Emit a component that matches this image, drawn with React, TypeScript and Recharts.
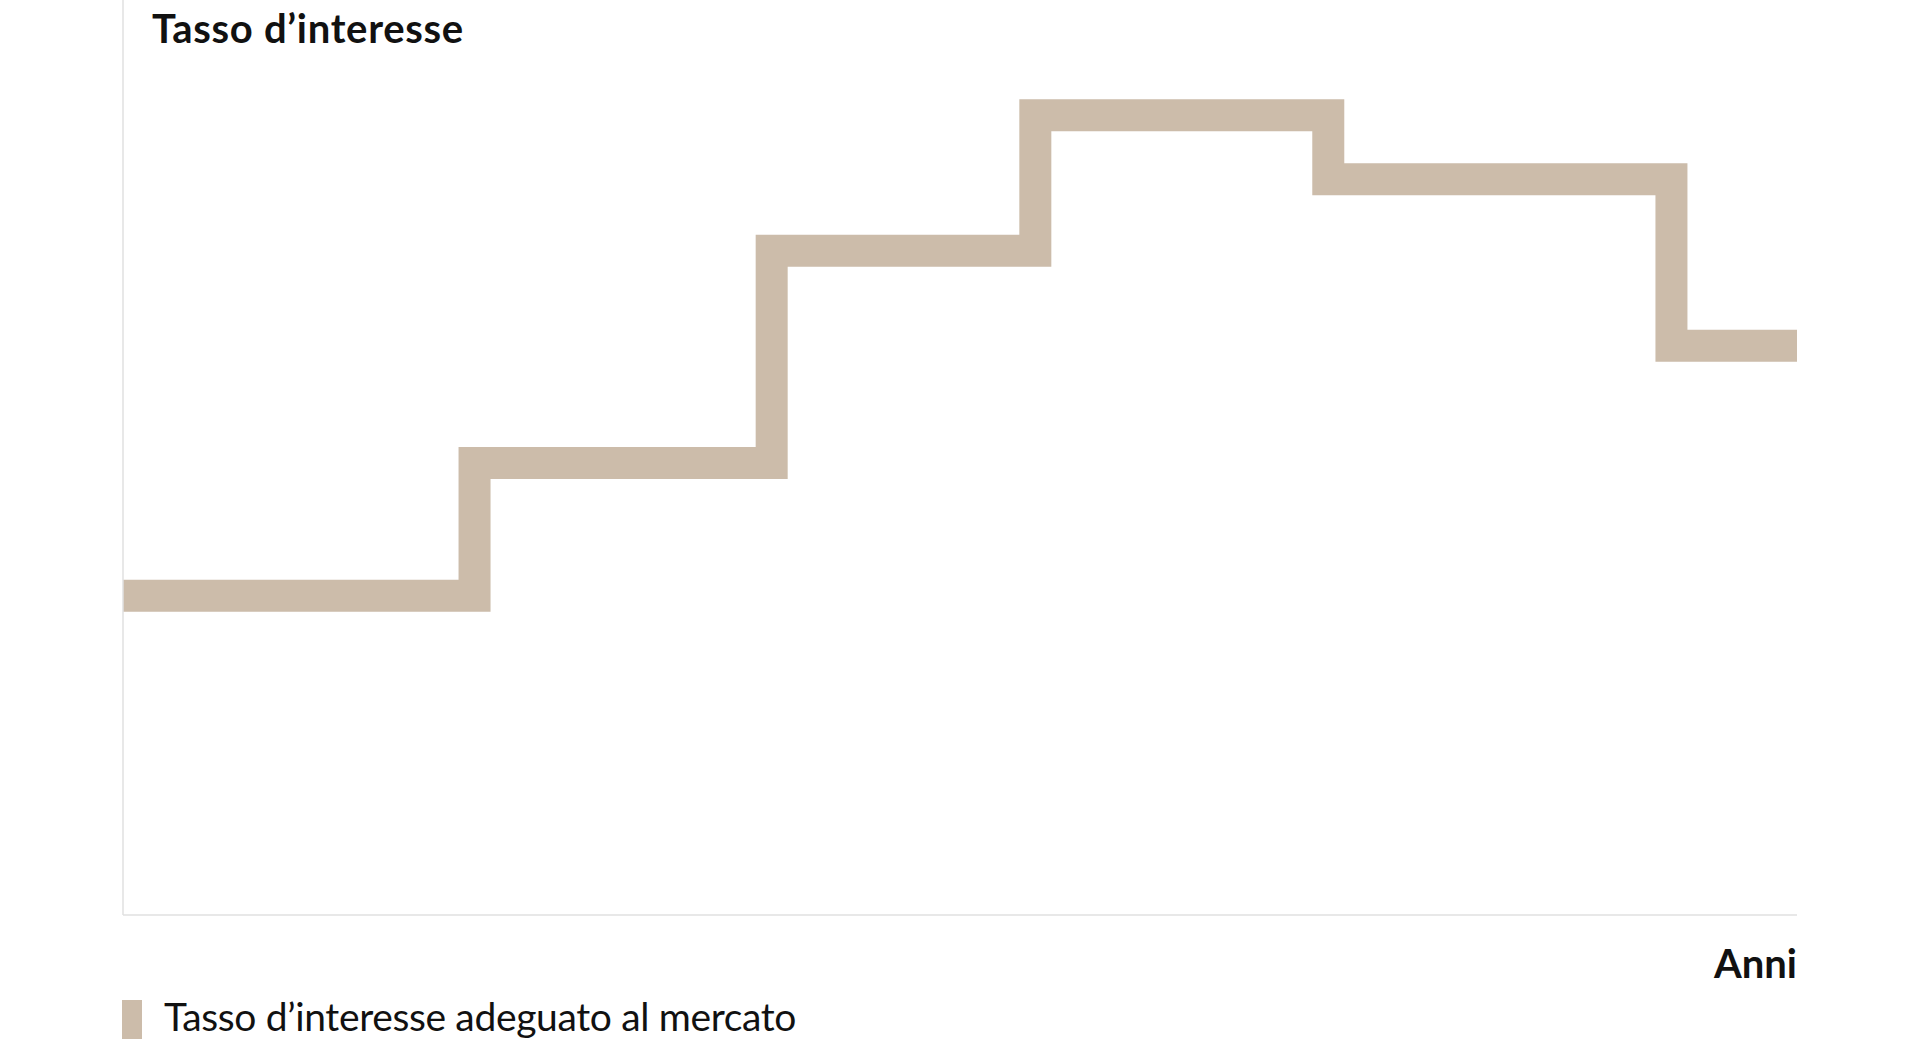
import { LineChart, Line, XAxis, YAxis } from 'recharts'

// anni (asse x senza etichette) e tasso (asse y senza etichette)
const anni = [0, 4.2, 7.75, 10.9, 14.4, 18.5, 20]
const tasso = [1.745, 2.47, 3.63, 4.37, 4.02, 3.11, 3.11]

const seriesName = 'Tasso d’interesse adeguato al mercato'
const yTitle = 'Tasso d’interesse'
const xTitle = 'Anni'

const beige = '#ccbcaa'
const axisGrey = '#e0e0e0'
const font = 'Lato, "Open Sans", sans-serif'

const data = anni.map((a, i) => ({ anni: a, tasso: tasso[i] }))

const App = () => {
    return (
        <div style={{ position: 'absolute', left: 0, top: 0, width: 1920, height: 1048, background: '#fff' }}>
            <LineChart
                width={1920}
                height={1048}
                data={data}
                margin={{ top: 0, right: 123, left: 122, bottom: 132 }}
            >
                <XAxis
                    dataKey="anni"
                    type="number"
                    domain={[0, 20]}
                    height={1}
                    tick={false}
                    tickLine={false}
                    axisLine={{ stroke: axisGrey, strokeWidth: 1.5 }}
                />
                <YAxis
                    type="number"
                    domain={[0, 5]}
                    width={1}
                    tick={false}
                    tickLine={false}
                    axisLine={{ stroke: axisGrey, strokeWidth: 1.5 }}
                />
                <Line
                    type="stepAfter"
                    dataKey="tasso"
                    name={seriesName}
                    stroke={beige}
                    strokeWidth={32}
                    strokeLinejoin="miter"
                    strokeLinecap="butt"
                    dot={false}
                    activeDot={false}
                    isAnimationActive={false}
                />
                <text x={152} y={43} fontFamily={font} fontWeight={700} fontSize={40} letterSpacing={0.7} fill="#111">
                    {yTitle}
                </text>
                <text x={1797} y={978} textAnchor="end" fontFamily={font} fontWeight={700} fontSize={40} fill="#111">
                    {xTitle}
                </text>
                <rect x={122} y={1000} width={20} height={39} fill={beige} />
                <text x={164} y={1031} fontFamily={font} fontWeight={400} fontSize={39} letterSpacing={-0.35} fill="#111">
                    {seriesName}
                </text>
            </LineChart>
        </div>
    )
}

export default App
